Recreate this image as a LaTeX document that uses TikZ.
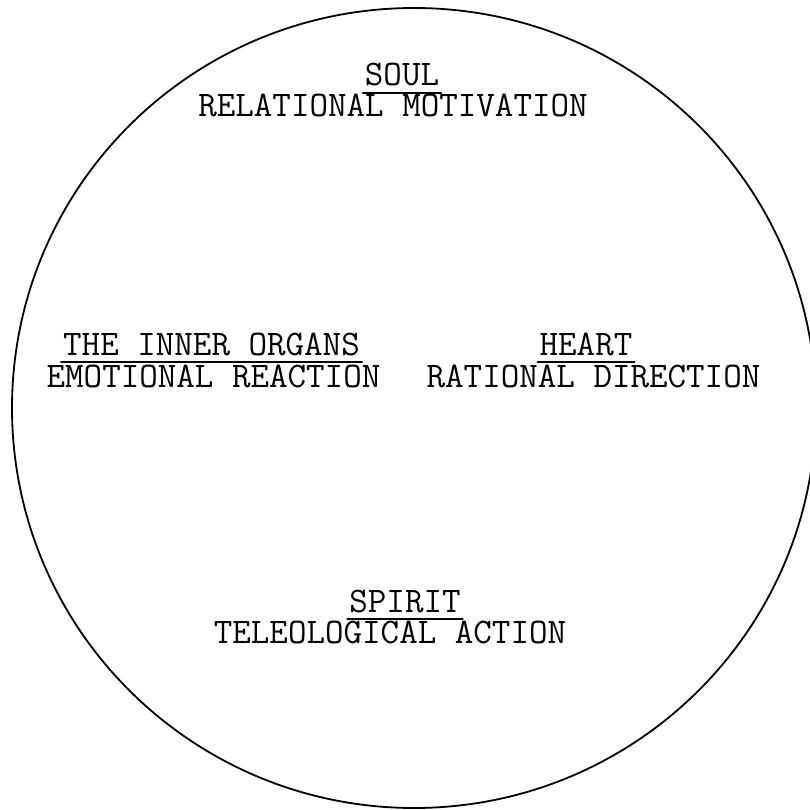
\documentclass[tikz,border=0pt]{standalone}
\usepackage{fontspec}
\tikzset{
  label/.style={font=\fontsize{36}{40}\selectfont\ttfamily, inner sep=0pt,
    text height=20pt, text depth=0pt, anchor=base},
  rule/.style={line width=1.6pt, line cap=round}
}

\begin{document}
\begin{tikzpicture}[x=1pt, y=-1pt]

\useasboundingbox (0,0) rectangle (809,810);

%--- Outline ---
\draw[line width=1.8pt] (414,408) ellipse (402pt and 400pt);

%--- Titles and their readings ---
\node[label] (soul)      at (402, 86)  {SOUL};
\node[label] (soulsub)   at (393,117)  {RELATIONAL MOTIVATION};

\node[label] (organs)    at (211.5,355) {THE INNER ORGANS};
\node[label] (organssub) at (213.5,387) {EMOTIONAL REACTION};

\node[label] (heart)     at (586,355)  {HEART};
\node[label] (heartsub)  at (593.5,387) {RATIONAL DIRECTION};

\node[label] (spirit)    at (405,612)  {SPIRIT};
\node[label] (spiritsub) at (390,643)  {TELEOLOGICAL ACTION};

% Underlines
\foreach \n in {soul, organs, heart, spirit} {
  \draw[rule] ([shift={(-2,7)}]\n.base west) -- ([shift={(2,7)}]\n.base east);
}

\end{tikzpicture}
\end{document}
